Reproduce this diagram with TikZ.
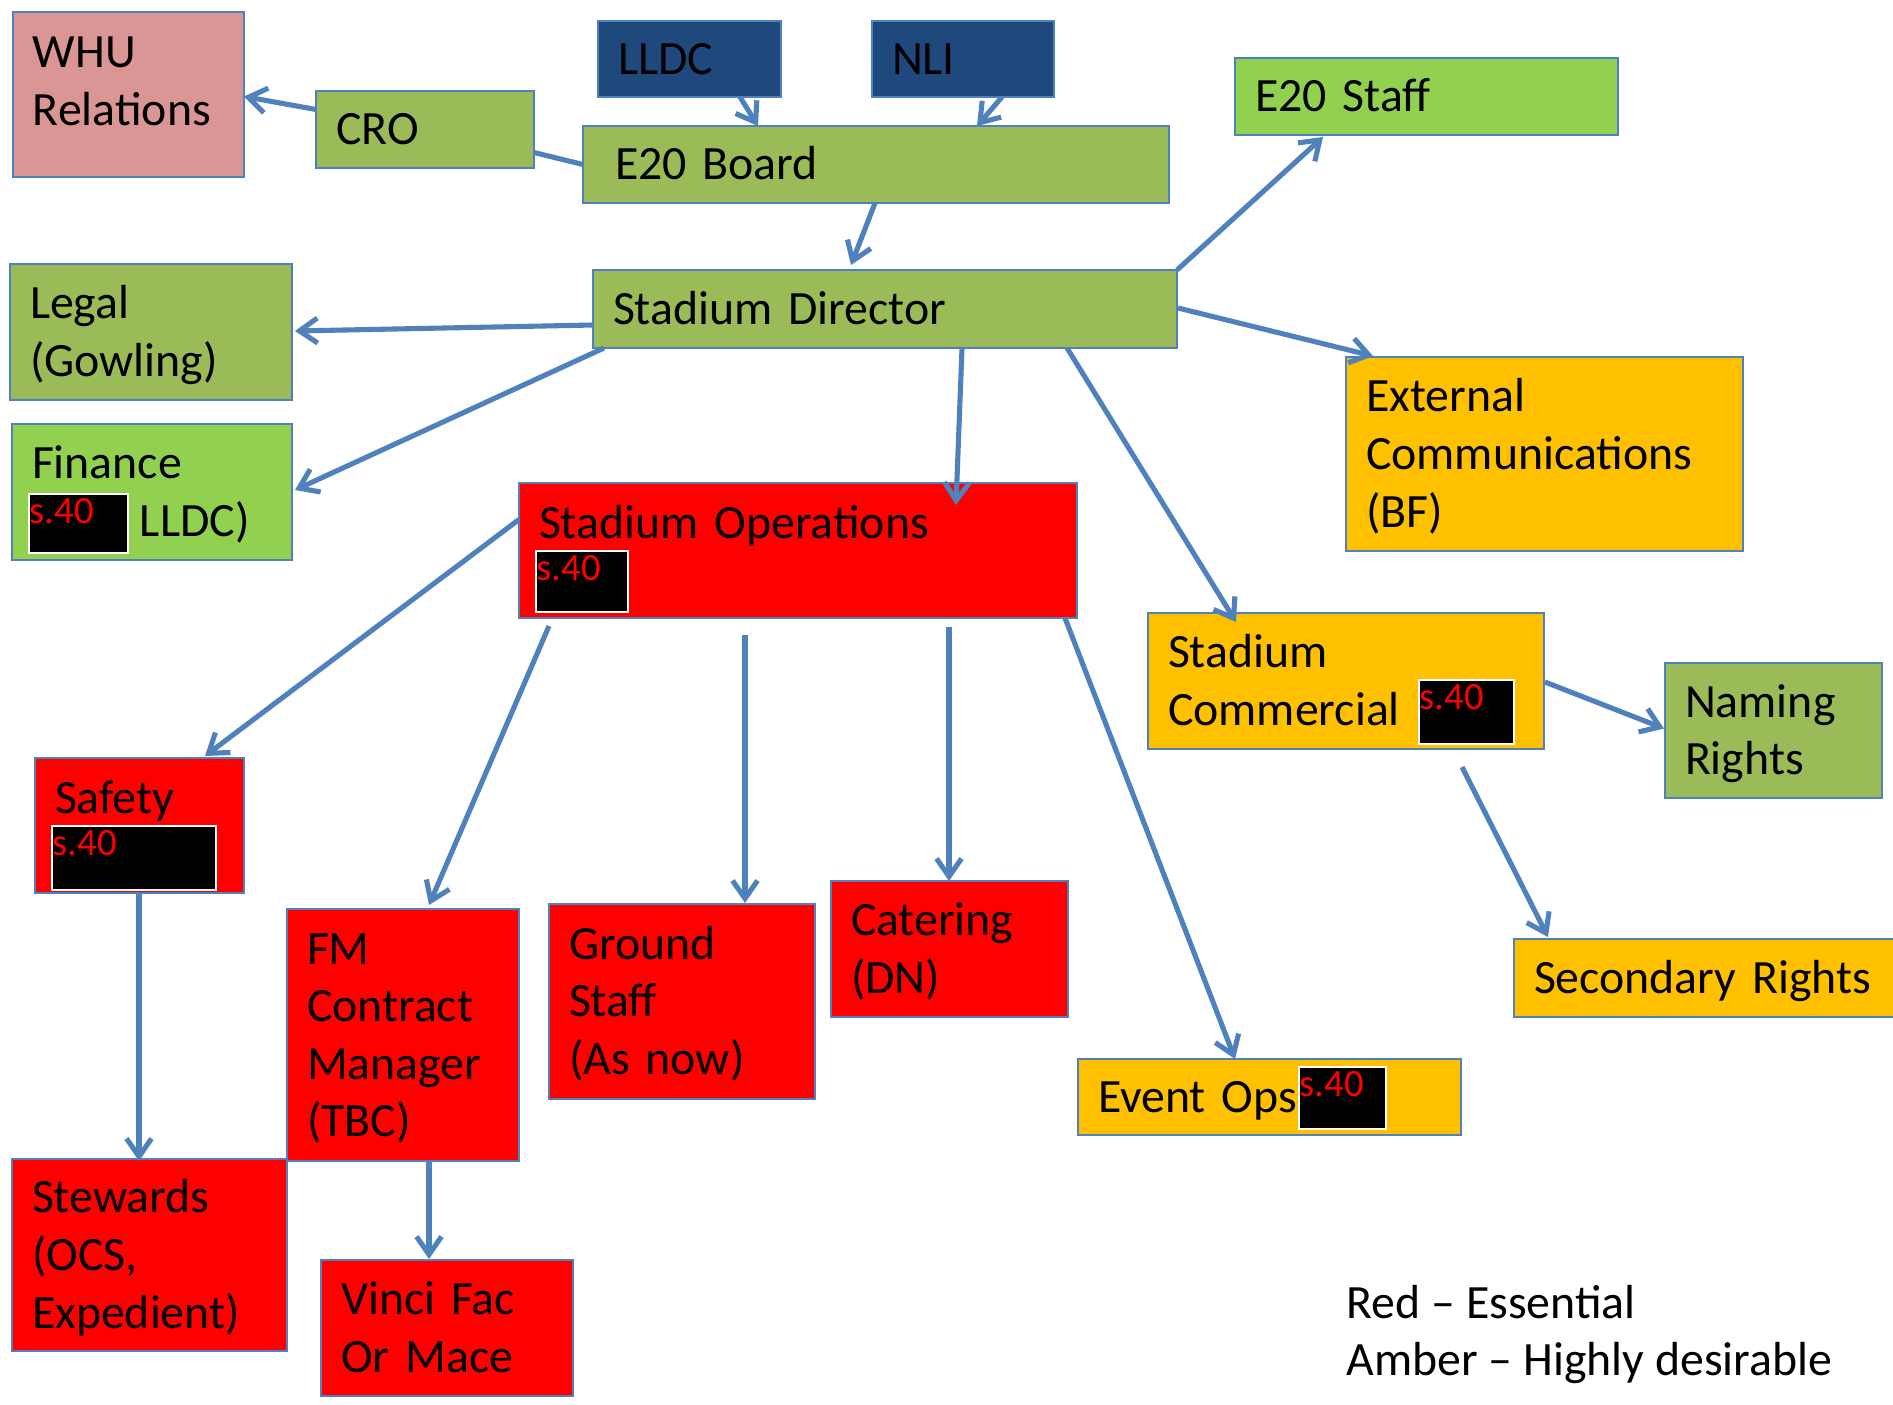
\documentclass[tikz,border=0pt]{standalone}
\usepackage{fontspec}
\setmainfont{Carlito}
\usetikzlibrary{arrows.meta,calc}
\definecolor{edgeblue}{HTML}{4F81BD}
\definecolor{olivegreen}{HTML}{9BBB59}
\definecolor{limegreen}{HTML}{92D050}
\definecolor{amber}{HTML}{FFC000}
\definecolor{essential}{HTML}{FF0000}
\definecolor{rosepink}{HTML}{D99694}
\definecolor{navyblue}{HTML}{1F497D}
\newcommand{\boxfont}{\fontsize{13.6}{16.4}\selectfont}
\newcommand{\redactfont}{\fontsize{11}{12}\selectfont}
\newcommand{\boxstrut}{\rule[-3.8pt]{0pt}{16.4pt}}
\newcommand{\padbelow}[1]{\rule[-#1]{0pt}{0pt}}
\tikzset{
  box/.style={draw=edgeblue, line width=.6pt, anchor=north west, inner xsep=.2cm, inner ysep=0pt, outer sep=0pt, align=left, font=\boxfont, execute at begin node=\boxstrut, execute at end node=\boxstrut},
  boxg/.style={box, fill=olivegreen},
  boxl/.style={box, fill=limegreen},
  boxa/.style={box, fill=amber},
  boxr/.style={box, fill=essential},
  boxp/.style={box, fill=rosepink},
  boxn/.style={box, fill=navyblue},
  redact/.style={fill=black, draw=white, line width=.5pt, anchor=north west, inner sep=0pt, outer sep=0pt, label={[anchor=north west, inner sep=0pt, yshift=-1pt, text=red, font=\redactfont]north west:s.40}},
  ar/.style={-{Straight Barb[length=1.8mm, width=2.5mm]}, line width=1.45pt, draw=edgeblue},
  ln/.style={line width=1.45pt, draw=edgeblue},
  keytext/.style={anchor=base west, inner sep=0pt, font=\boxfont},
}
\begin{document}
\begin{tikzpicture}[x=0.1mm, y=-0.1mm]
  \useasboundingbox (0,0) rectangle (1893,1404);
  \node[boxp, text width=1.91cm, minimum height=1.65cm] (whu) at (13,12) {WHU\\Relations\padbelow{11.6pt}};
  \node[boxg, text width=1.78cm, minimum height=.77cm] (cro) at (316,91) {CRO};
  \node[boxn, text width=1.43cm, minimum height=.76cm] (lldc) at (598,21) {LLDC};
  \node[boxn, text width=1.42cm, minimum height=.76cm] (nli) at (872,21) {NLI};
  \node[boxg, text width=5.46cm, minimum height=.77cm] (board) at (583,126) {\hspace*{.12cm}E20 Board};
  \node[boxl, text width=3.43cm, minimum height=.77cm] (staff) at (1235,58) {E20 Staff};
  \node[boxg, text width=5.44cm, minimum height=.78cm] (sd) at (593,270) {Stadium Director};
  \node[boxg, text width=2.42cm, minimum height=1.36cm] (legal) at (10,264) {Legal\\(Gowling)};
  \node[boxl, text width=2.40cm, minimum height=1.36cm] (fin) at (12,424) {Finance\\\hspace*{1.08cm}LLDC)};
  \node[boxa, text width=3.57cm, minimum height=1.94cm] (ext) at (1346,357) {External\\Communications\\(BF)};
  \node[boxr, text width=5.18cm, minimum height=1.35cm] (so) at (519,483) {Stadium Operations\padbelow{19.4pt}};
  \node[boxa, text width=3.56cm, minimum height=1.36cm] (sc) at (1148,613) {Stadium\\Commercial};
  \node[boxg, text width=1.77cm, minimum height=1.35cm] (naming) at (1665,663) {Naming\\Rights};
  \node[boxr, text width=1.69cm, minimum height=1.35cm] (safety) at (35,758) {Safety\padbelow{19.4pt}};
  \node[boxr, text width=2.35cm, minimum height=1.92cm] (stewards) at (12,1159) {Stewards\\(OCS,\\Expedient)};
  \node[boxr, text width=1.92cm, minimum height=2.52cm] (fm) at (287,909) {FM\\Contract\\Manager\\(TBC)};
  \node[boxr, text width=2.26cm, minimum height=1.95cm] (ground) at (549,904) {Ground\\Staff\\(As now)};
  \node[boxr, text width=1.97cm, minimum height=1.36cm] (catering) at (831,881) {Catering\\(DN)};
  \node[boxa, text width=3.51cm, minimum height=.78cm] (second) at (1514,939) {Secondary Rights};
  \node[boxa, text width=3.43cm, minimum height=.76cm] (event) at (1078,1059) {Event Ops};
  \node[boxr, text width=2.12cm, minimum height=1.36cm] (vinci) at (321,1260) {Vinci Fac\\Or Mace};
  \node[redact, minimum width=.99cm, minimum height=.59cm] (finred) at (29,494) {};
  \node[redact, minimum width=.92cm, minimum height=.61cm] (sored) at (536,551) {};
  \node[redact, minimum width=.95cm, minimum height=.64cm] (scred) at (1419,680) {};
  \node[redact, minimum width=1.64cm, minimum height=.64cm] (safred) at (52,826) {};
  \node[redact, minimum width=.87cm, minimum height=.62cm] (evred) at (1299,1067) {};
  \node[keytext] (keyred) at (1346,1318) {Red \textendash{} Essential};
  \node[keytext] (keyamber) at (1346,1375) {Amber \textendash{} Highly desirable};
  \draw[ar] ($(cro.west)+(0,-20)$) -- ($(whu.east)+(0,2)$);
  \draw[ln] ($(cro.east)+(0,23)$) -- (board.west);
  \draw[ar] ($(lldc.south west)+(142,0)$) -- ($(board.north west)+(175,0)$);
  \draw[ar] ($(nli.south west)+(130,0)$) -- ($(board.north west)+(394,0)$);
  \draw[ar] ($(board.south west)+(292,0)$) -- ($(sd.north west)+(258,-5)$);
  \draw[ar] (sd.north east) -- ($(staff.south west)+(88,2)$);
  \draw[ar] ($(sd.west)+(0,16)$) -- ($(legal.east)+(3,-1)$);
  \draw[ar] ($(sd.south west)+(11,0)$) -- ($(fin.east)+(3,-2)$);
  \draw[ar] ($(sd.east)+(1,-1)$) -- ($(ext.north west)+(27,-1)$);
  \draw[ar] ($(sd.south west)+(369,0)$) -- ($(so.north west)+(437,22)$);
  \draw[ar] ($(sd.south west)+(474,0)$) -- ($(sc.north west)+(88,9)$);
  \draw[ar] ($(so.west)+(0,-31)$) -- ($(safety.north west)+(170,-2)$);
  \draw[ar] ($(so.south west)+(30,8)$) -- ($(fm.north west)+(142,-4)$);
  \draw[ar] ($(so.south west)+(226,17)$) -- ($(ground.north west)+(196,-1)$);
  \draw[ar] ($(so.south west)+(430,9)$) -- ($(catering.north west)+(118,0)$);
  \draw[ar] ($(so.south east)+(-12,0)$) -- ($(event.north west)+(157,0)$);
  \draw[ar] ($(sc.east)+(1,1)$) -- ($(naming.west)+(-1,-2)$);
  \draw[ar] ($(sc.south west)+(314,18)$) -- ($(second.north west)+(34,-2)$);
  \draw[ar] ($(safety.south west)+(104,0)$) -- ($(stewards.north west)+(127,2)$);
  \draw[ar] ($(fm.south west)+(142,0)$) -- ($(vinci.north west)+(108,-1)$);
\end{tikzpicture}
\end{document}
